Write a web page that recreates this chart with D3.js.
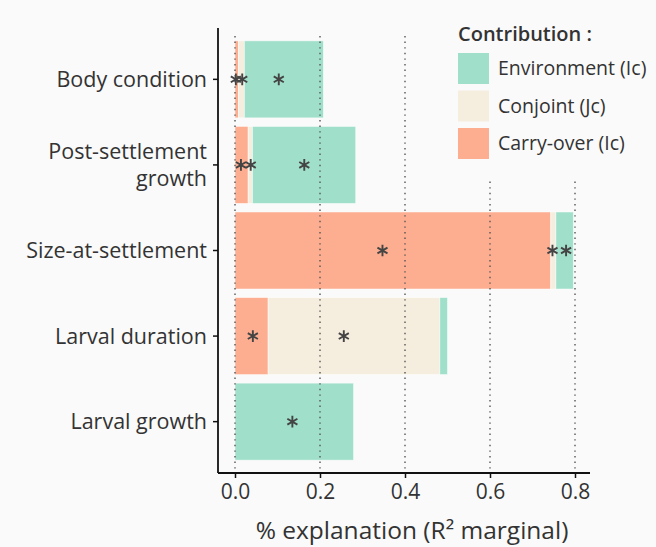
<!DOCTYPE html>
<html>
<head>
<meta charset="utf-8">
<script src="https://cdn.jsdelivr.net/npm/d3@7"></script>
<style>
    body { margin: 0; background: #fafafa; }
    svg { display: block; background: #fafafa; }
    text { font-family: "Open Sans", sans-serif; fill: #333; }
</style>
</head>
<body>
<svg id="chart" width="656" height="547"></svg>
<script>
// data
const categories = ['Body condition', 'Post-settlement growth', 'Size-at-settlement', 'Larval duration', 'Larval growth'];
const carryOver = [0.008, 0.031, 0.743, 0.078, 0.0];
const conjoint = [0.014, 0.010, 0.012, 0.404, 0.0];
const environment = [0.186, 0.243, 0.041, 0.018, 0.279];

// significance stars (category index, x position)
const starCategory = [0, 0, 0, 1, 1, 1, 2, 2, 2, 3, 3, 4];
const starValue = [0.002, 0.017, 0.103, 0.014, 0.037, 0.163, 0.347, 0.747, 0.779, 0.042, 0.256, 0.135];

const xTicks = [0, 0.2, 0.4, 0.6, 0.8];
const legendLabels = ['Environment (Ic)', 'Conjoint (Jc)', 'Carry-over (Ic)'];

const COLORS = {
    carry: '#fdae91',
    conjoint: '#f5eedf',
    env: '#a0dfc9'
};

const svg = d3.select('#chart');

const AXIS_X = 218;
const TOP = 28;
const BOTTOM = 473;

const x = d3.scaleLinear().domain([0, 0.8]).range([235, 575]);
const y = d3.scaleBand()
    .domain(categories)
    .range([TOP, BOTTOM])
    .paddingInner(0.1)
    .paddingOuter(0.15);

// stacked table: carry-over, conjoint, environment from left to right
const table = categories.map((c, i) => ({
    cat: c,
    carry: carryOver[i],
    conjoint: conjoint[i],
    env: environment[i]
}));
const stack = d3.stack().keys(['carry', 'conjoint', 'env'])(table);

const bars = svg.append('g');
stack.forEach(layer => {
    layer.forEach(d => {
        const w = x(d[1]) - x(d[0]);
        if (w <= 0) return;
        bars.append('rect')
            .attr('x', x(d[0]))
            .attr('y', y(d.data.cat))
            .attr('width', w)
            .attr('height', y.bandwidth())
            .attr('fill', COLORS[layer.key])
            .attr('stroke', '#ffffff')
            .attr('stroke-opacity', 0.6)
            .attr('stroke-width', 0.8);
    });
});

// dotted vertical gridlines on top of the bars
svg.append('g')
    .selectAll('line')
    .data(xTicks)
    .enter()
    .append('line')
    .attr('x1', d => x(d))
    .attr('x2', d => x(d))
    .attr('y1', 36)
    .attr('y2', BOTTOM)
    .attr('stroke', '#555')
    .attr('stroke-width', 1.4)
    .attr('stroke-dasharray', '1.4,4.2');

// stars
const star = d3.symbol().type(d3.symbolAsterisk).size(95);
svg.append('g')
    .selectAll('path')
    .data(starValue)
    .enter()
    .append('path')
    .attr('d', star)
    .attr('transform', (d, i) => 'translate(' + x(d) + ',' + (y(categories[starCategory[i]]) + y.bandwidth() / 2) + ')')
    .attr('fill', 'none')
    .attr('stroke', '#444')
    .attr('stroke-width', 1.9);

// axes
const yAxis = svg.append('g')
    .attr('transform', 'translate(' + AXIS_X + ',0)')
    .call(d3.axisLeft(y).tickSize(5).tickSizeOuter(0).tickFormat(''));
yAxis.select('.domain').attr('d', 'M0,' + TOP + 'V' + BOTTOM).attr('stroke', '#111').attr('stroke-width', 1.8);
yAxis.selectAll('.tick line').attr('stroke', '#111').attr('stroke-width', 1.5);

const yLabels = svg.append('g');
categories.forEach(c => {
    const cy = y(c) + y.bandwidth() / 2;
    const lines = c === 'Post-settlement growth' ? ['Post-settlement', 'growth'] : [c];
    lines.forEach((l, k) => {
        const offset = lines.length === 1 ? 0 : (k === 0 ? -13.5 : 13.5);
        yLabels.append('text')
            .attr('x', 207)
            .attr('y', cy + offset)
            .attr('dy', '0.35em')
            .attr('text-anchor', 'end')
            .attr('font-size', 21.5)
            .text(l);
    });
});

const xAxis = svg.append('g')
    .attr('transform', 'translate(0,' + BOTTOM + ')')
    .call(d3.axisBottom(x).tickValues(xTicks).tickSize(5).tickSizeOuter(0).tickFormat(d3.format('.1f')));
xAxis.select('.domain').attr('d', 'M' + AXIS_X + ',0H590').attr('stroke', '#111').attr('stroke-width', 1.8);
xAxis.selectAll('.tick line').attr('stroke', '#111').attr('stroke-width', 1.5);
xAxis.selectAll('.tick text')
    .attr('font-size', 21)
    .attr('font-family', '"Open Sans", sans-serif')
    .attr('fill', '#333')
    .attr('dy', '0.85em');

svg.append('text')
    .attr('x', 412)
    .attr('y', 539)
    .attr('text-anchor', 'middle')
    .attr('font-size', 24.5)
    .text('% explanation (R² marginal)');

// legend with a box hiding the gridlines behind it
const legend = svg.append('g');
legend.append('rect')
    .attr('x', 418)
    .attr('y', 14)
    .attr('width', 210)
    .attr('height', 164)
    .attr('fill', '#fafafa');
legend.append('text')
    .attr('x', 458)
    .attr('y', 41)
    .attr('font-size', 20)
    .attr('font-weight', 600)
    .text('Contribution :');
const legendColors = [COLORS.env, COLORS.conjoint, COLORS.carry];
legendLabels.forEach((l, i) => {
    legend.append('rect')
        .attr('x', 458)
        .attr('y', 53 + i * 37.5)
        .attr('width', 31)
        .attr('height', 31)
        .attr('fill', legendColors[i]);
    legend.append('text')
        .attr('x', 498)
        .attr('y', 68.5 + i * 37.5)
        .attr('dy', '0.35em')
        .attr('font-size', 19.5)
        .text(l);
});
</script>
</body>
</html>
